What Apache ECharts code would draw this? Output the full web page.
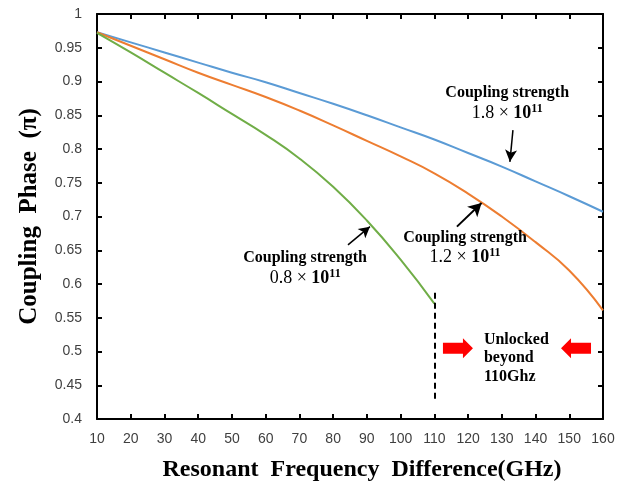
<!DOCTYPE html>
<html>
<head>
<meta charset="utf-8">
<script src="https://cdn.jsdelivr.net/npm/echarts@6/dist/echarts.min.js"></script>
<style>
  html, body { margin: 0; padding: 0; background: #fff; }
  #chart { width: 627px; height: 492px; }
</style>
</head>
<body>
<div id="chart"></div>
<script>
// x values (GHz)
var freqs = [10, 20, 30, 40, 50, 60, 70, 80, 90, 100, 110, 120, 130, 140, 150, 160];
// coupling phase (pi) for each coupling strength
var phase18 = [0.973, 0.958, 0.943, 0.928, 0.913, 0.899, 0.883, 0.867, 0.850, 0.832, 0.814, 0.794, 0.774, 0.752, 0.730, 0.707];
var phase12 = [0.973, 0.953, 0.933, 0.913, 0.895, 0.877, 0.857, 0.835, 0.812, 0.789, 0.764, 0.734, 0.700, 0.662, 0.620, 0.561];
var phase08 = [0.972, 0.943, 0.913, 0.883, 0.852, 0.821, 0.786, 0.744, 0.694, 0.636, 0.571];

var xTicks = { min: 10, max: 160, interval: 10 };
var yTicks = { min: 0.4, max: 1, interval: 0.05 };

var lockLimit = 110;

function pairs(ys) {
    var out = [];
    for (var i = 0; i < ys.length; i++) out.push([freqs[i], ys[i]]);
    return out;
}

var serif = '"Liberation Serif", "DejaVu Serif", serif';
var labelColor = '#3f3f3f';

function arrowLine(from, to) {
    return [{ coord: from }, { coord: to }];
}

var chart = echarts.init(document.getElementById('chart'));

var option = {
    animation: false,
    grid: { left: 97, right: 24, top: 14, bottom: 73 },
    xAxis: [
        {
            type: 'value',
            min: xTicks.min, max: xTicks.max, interval: xTicks.interval,
            name: 'Resonant  Frequency  Difference(GHz)',
            nameLocation: 'middle',
            nameGap: 39,
            nameTextStyle: { fontFamily: serif, fontWeight: 'bold', fontSize: 24, color: '#000', padding: [0, 0, 0, 24] },
            axisLine: { lineStyle: { color: '#000', width: 2 } },
            axisTick: { inside: true, length: 5, lineStyle: { color: '#000', width: 2 } },
            axisLabel: { margin: 13, color: labelColor, fontSize: 14, fontFamily: 'Liberation Sans' },
            splitLine: { show: false }
        },
        {
            type: 'value', position: 'top',
            min: xTicks.min, max: xTicks.max, interval: xTicks.interval,
            axisLine: { lineStyle: { color: '#000', width: 2 } },
            axisTick: { inside: true, length: 5, lineStyle: { color: '#000', width: 2 } },
            axisLabel: { show: false },
            splitLine: { show: false }
        }
    ],
    yAxis: [
        {
            type: 'value',
            min: yTicks.min, max: yTicks.max, interval: yTicks.interval,
            name: 'Coupling  Phase  (π)',
            nameLocation: 'middle',
            nameGap: 55,
            nameTextStyle: { fontFamily: serif, fontWeight: 'bold', fontSize: 25, color: '#000' },
            axisLine: { show: true, lineStyle: { color: '#000', width: 2 } },
            axisTick: { show: true, inside: true, length: 5, lineStyle: { color: '#000', width: 2 } },
            axisLabel: { margin: 15, color: labelColor, fontSize: 14, fontFamily: 'Liberation Sans' },
            splitLine: { show: false }
        },
        {
            type: 'value', position: 'right',
            min: yTicks.min, max: yTicks.max, interval: yTicks.interval,
            axisLine: { show: true, lineStyle: { color: '#000', width: 2 } },
            axisTick: { show: true, inside: true, length: 5, lineStyle: { color: '#000', width: 2 } },
            axisLabel: { show: false },
            splitLine: { show: false }
        }
    ],
    series: [
        {
            name: '1.8e11', type: 'line', smooth: true, showSymbol: false,
            data: pairs(phase18),
            lineStyle: { color: '#5b9bd5', width: 2 },
            markLine: {
                silent: true, symbol: ['none', 'arrow'], symbolSize: [9, 12],
                label: { show: false },
                lineStyle: { color: '#000', width: 1.5, type: 'solid' },
                data: [arrowLine([133.3, 0.828], [132.4, 0.781])]
            }
        },
        {
            name: '1.2e11', type: 'line', smooth: true, showSymbol: false,
            data: pairs(phase12),
            lineStyle: { color: '#ed7d31', width: 2 },
            markLine: {
                silent: true, symbol: ['none', 'arrow'], symbolSize: [11, 13],
                label: { show: false },
                lineStyle: { color: '#000', width: 2, type: 'solid' },
                data: [arrowLine([116.7, 0.685], [124.0, 0.720])]
            }
        },
        {
            name: '0.8e11', type: 'line', smooth: true, showSymbol: false,
            data: pairs(phase08),
            lineStyle: { color: '#70ad47', width: 2 },
            markLine: {
                silent: true, symbol: ['none', 'none'],
                label: { show: false },
                lineStyle: { color: '#000', width: 2, type: [6, 4] },
                data: [arrowLine([lockLimit, 0.43], [lockLimit, 0.593])]
            }
        },
        {
            name: 'arrow08', type: 'line', data: [],
            markLine: {
                silent: true, symbol: ['none', 'arrow'], symbolSize: [9, 11],
                label: { show: false },
                lineStyle: { color: '#000', width: 1.5, type: 'solid' },
                data: [arrowLine([84.4, 0.658], [90.9, 0.685])]
            }
        }
    ]
};
chart.setOption(option);

function px(x, y) {
    return chart.convertToPixel({ xAxisIndex: 0, yAxisIndex: 0 }, [x, y]);
}

var richMath = {
    n: { fontFamily: serif, fontSize: 18, color: '#000' },
    b: { fontFamily: serif, fontSize: 18, fontWeight: 'bold', color: '#000' },
    sup: { fontFamily: serif, fontSize: 12, fontWeight: 'bold', color: '#000', verticalAlign: 'top', padding: [0, 0, 9, 0] }
};

function label(x, y, text, rich, align) {
    var p = px(x, y);
    var st = {
        text: text,
        x: 0, y: 0,
        fill: '#000',
        font: 'bold 16px ' + serif,
        textAlign: align || 'center',
        textVerticalAlign: 'middle'
    };
    if (rich) st.rich = rich;
    return { type: 'text', x: p[0], y: p[1], style: st, z: 10 };
}

function blockArrow(cx, cy, dir) {
    var p = px(cx, cy);
    // shape pointing right, centred at 0
    var pts = [[-15, -5.5], [5, -5.5], [5, -10], [15, 0], [5, 10], [5, 5.5], [-15, 5.5]];
    var out = [];
    for (var i = 0; i < pts.length; i++) out.push([p[0] + dir * pts[i][0], p[1] + pts[i][1]]);
    return { type: 'polygon', shape: { points: out }, style: { fill: '#ff0000' }, z: 10 };
}

var graphics = [
    label(131.6, 0.883, 'Coupling strength'),
    label(131.6, 0.853, '{n|1.8 × }{b|10}{sup|11}', richMath),
    label(119.1, 0.668, 'Coupling strength'),
    label(119.1, 0.640, '{n|1.2 × }{b|10}{sup|11}', richMath),
    label(71.7, 0.639, 'Coupling strength'),
    label(71.7, 0.609, '{n|0.8 × }{b|10}{sup|11}', richMath),
    label(124.7, 0.517, 'Unlocked', null, 'left'),
    label(124.7, 0.490, 'beyond', null, 'left'),
    label(124.7, 0.462, '110Ghz', null, 'left'),
    blockArrow(117.0, 0.505, 1),
    blockArrow(152.0, 0.505, -1)
];
chart.setOption({ graphic: graphics });
</script>
</body>
</html>
